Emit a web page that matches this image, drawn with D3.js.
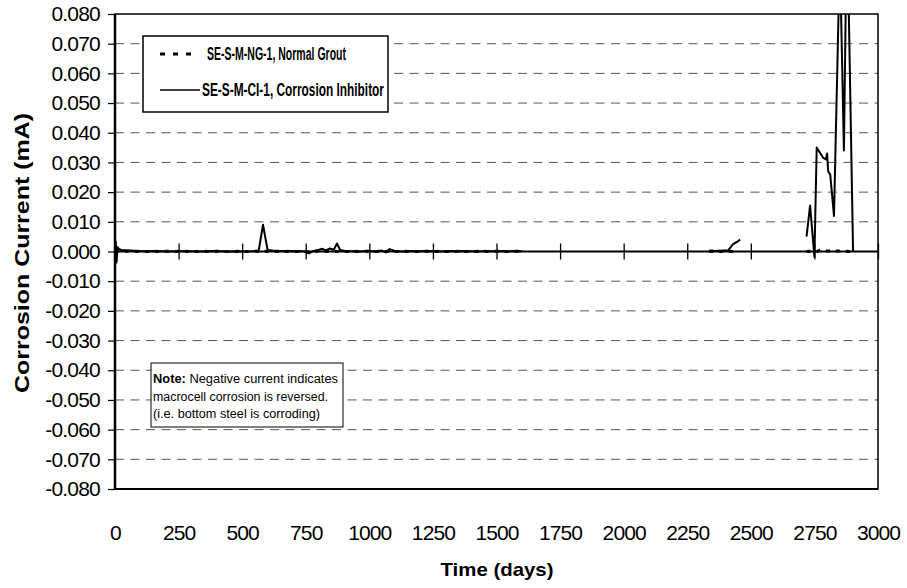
<!DOCTYPE html>
<html>
<head>
<meta charset="utf-8">
<script src="https://cdn.jsdelivr.net/npm/d3@7"></script>
<style>
    body { margin: 0; background: #fff; }
    svg { display: block; font-family: Arial, "Liberation Sans", sans-serif; }
</style>
</head>
<body>
<div id="chart"></div>
<script>
// ---- data ----
const xTicks = [0, 250, 500, 750, 1000, 1250, 1500, 1750, 2000, 2250, 2500, 2750, 3000];
const yTicks = [-0.08, -0.07, -0.06, -0.05, -0.04, -0.03, -0.02, -0.01, 0, 0.01, 0.02, 0.03, 0.04, 0.05, 0.06, 0.07, 0.08];

// SE-S-M-NG-1, Normal Grout (null = no readings)
const ngDays = [
    0, 14, 28, 49, 70, 98, 126, 154, 182, 210,
    238, 266, 294, 322, 350, 378, 406, 434, 462, 490,
    518, 546, 574, 602, 630, 658, 686, 714, 742, 770,
    798, 826, 854, 882, 910, 938, 966, 994, 1022, 1050,
    1078, 1106, 1134, 1162, 1190, 1218, 1246, 1274, 1302, 1330,
    1358, 1386, 1414, 1442, 1470, 1498, 1526, 1554, 1582, 1600,
    1970, 2336, 2358, 2384, 2406, 2430, 2440, 2600, 2719, 2735,
    2760, 2779, 2800, 2827, 2851, 2870, 2895
];
const ngValues = [
    0.0000, 0.0002, 0.0001, 0.0001, 0.0000, 0.0001, 0.0000, 0.0001, 0.0000, 0.0001,
    0.0000, 0.0001, 0.0000, 0.0000, 0.0001, 0.0000, 0.0001, 0.0000, 0.0000, 0.0001,
    0.0000, 0.0001, 0.0000, 0.0001, 0.0000, 0.0000, 0.0001, 0.0000, 0.0001, 0.0000,
    0.0001, 0.0000, 0.0001, 0.0000, 0.0000, 0.0001, 0.0000, 0.0001, 0.0000, 0.0000,
    0.0001, 0.0000, 0.0001, 0.0000, 0.0000, 0.0001, 0.0000, 0.0001, 0.0000, 0.0000,
    0.0001, 0.0000, 0.0000, 0.0001, 0.0000, 0.0001, 0.0000, 0.0000, 0.0001, 0.0000,
    null, 0.0000, 0.0001, 0.0000, 0.0001, 0.0000, 0.0001, null, 0.0000, 0.0001,
    0.0000, 0.0007, 0.0002, 0.0001, 0.0002, 0.0001, 0.0000
];

// SE-S-M-CI-1, Corrosion Inhibitor
const ciDays = [
    0, 3, 6, 10, 16, 25, 40, 60, 90, 120,
    150, 180, 210, 240, 270, 300, 330, 360, 390, 420,
    450, 480, 510, 540, 565, 582, 600, 620, 650, 680,
    710, 740, 763, 780, 800, 815, 830, 845, 860, 873,
    885, 905, 930, 960, 990, 1020, 1050, 1065, 1080, 1100,
    1130, 1160, 1190, 1220, 1250, 1280, 1310, 1340, 1370, 1400,
    1430, 1460, 1490, 1520, 1550, 1580, 1600, 1970, 2336, 2360,
    2390, 2410, 2430, 2445, 2458, 2600, 2719, 2733, 2750, 2759,
    2785, 2795, 2800, 2804, 2812, 2827, 2850, 2866, 2878, 2902
];
const ciValues = [
    0.0000, 0.0033, -0.0037, 0.0015, 0.0008, 0.0005, 0.0004, 0.0003, 0.0002, 0.0001,
    0.0002, 0.0001, 0.0000, 0.0001, 0.0002, 0.0001, 0.0000, 0.0001, 0.0002, 0.0001,
    0.0000, 0.0001, 0.0000, 0.0001, 0.0003, 0.0090, 0.0005, 0.0003, 0.0002, 0.0001,
    0.0002, 0.0001, -0.0006, 0.0002, 0.0005, 0.0009, 0.0004, 0.0010, 0.0006, 0.0027,
    0.0005, 0.0002, 0.0001, 0.0000, 0.0002, 0.0001, 0.0003, -0.0003, 0.0008, 0.0002,
    0.0000, 0.0002, 0.0001, 0.0002, 0.0001, 0.0000, 0.0002, 0.0001, 0.0002, 0.0001,
    0.0000, 0.0002, 0.0001, 0.0002, 0.0001, 0.0002, 0.0001, null, 0.0003, 0.0002,
    0.0003, 0.0003, 0.0025, 0.0032, 0.0040, null, 0.0050, 0.0155, -0.0018, 0.0350,
    0.0315, 0.0310, 0.0330, 0.0270, 0.0260, 0.0120, 0.1000, 0.0340, 0.1150, 0.0000
];

const seriesNames = ["SE-S-M-NG-1, Normal Grout", "SE-S-M-CI-1,  Corrosion Inhibitor"];
const noteLines = ["Negative current indicates", "macrocell corrosion is reversed.", "(i.e. bottom steel is corroding)"];

class CorrosionChart {
    constructor(parentElement) {
        this.parentElement = parentElement;
        this.initVis();
    }

    initVis() {
        const vis = this;

        vis.margin = { top: 14, right: 29, bottom: 99, left: 115 };
        vis.width = 907 - vis.margin.left - vis.margin.right;
        vis.height = 588 - vis.margin.top - vis.margin.bottom;

        const svg = d3.select(`#${vis.parentElement}`)
            .append("svg")
            .attr("width", 907)
            .attr("height", 588);

        vis.svg = svg.append("g")
            .attr("transform", `translate(${vis.margin.left},${vis.margin.top})`);

        // Scales
        vis.x = d3.scaleLinear().domain([0, 3000]).range([0, vis.width]);
        vis.y = d3.scaleLinear().domain([-0.08, 0.08]).range([vis.height, 0]);

        // Dashed gridlines
        vis.svg.append("g")
            .selectAll("line")
            .data(yTicks.filter(d => d !== 0 && Math.abs(d) < 0.08))
            .enter()
            .append("line")
            .attr("x1", 0)
            .attr("x2", vis.width)
            .attr("y1", d => vis.y(d))
            .attr("y2", d => vis.y(d))
            .attr("stroke", "#555")
            .attr("stroke-width", 1)
            .attr("stroke-dasharray", "9,6.5");

        // Y axis with outward ticks
        const yAxis = vis.svg.append("g")
            .call(d3.axisLeft(vis.y)
                .tickValues(yTicks)
                .tickSize(7)
                .tickPadding(8)
                .tickFormat(d => d.toFixed(3)));
        yAxis.select(".domain").remove();
        yAxis.selectAll("line").attr("stroke", "#000").attr("stroke-width", 1.2);
        yAxis.selectAll("text")
            .attr("font-size", "21px")
            .attr("letter-spacing", "-0.8px")
            .attr("fill", "#000")
            .style("font-family", "Arial, 'Liberation Sans', sans-serif");

        // X labels, placed below the plot
        const xLabels = vis.svg.append("g")
            .attr("transform", `translate(0,${vis.height})`)
            .call(d3.axisBottom(vis.x)
                .tickValues(xTicks)
                .tickSize(0)
                .tickPadding(36)
                .tickFormat(d => String(d)));
        xLabels.select(".domain").remove();
        xLabels.selectAll("text")
            .attr("font-size", "21px")
            .attr("letter-spacing", "-0.9px")
            .attr("fill", "#000")
            .style("font-family", "Arial, 'Liberation Sans', sans-serif");

        // Zero line with crossing ticks
        const y0 = vis.y(0);
        vis.svg.append("line")
            .attr("x1", 0).attr("x2", vis.width)
            .attr("y1", y0).attr("y2", y0)
            .attr("stroke", "#000").attr("stroke-width", 2);
        const cross = vis.svg.append("g")
            .attr("transform", `translate(0,${y0 - 8})`)
            .call(d3.axisBottom(vis.x).tickValues(xTicks).tickSize(16).tickFormat(""));
        cross.select(".domain").remove();
        cross.selectAll("line").attr("stroke", "#000").attr("stroke-width", 1.3);

        // Clip for data
        svg.append("defs").append("clipPath")
            .attr("id", "plot-clip")
            .append("rect")
            .attr("width", vis.width)
            .attr("height", vis.height);

        const ngData = ngDays.map((d, i) => ({ day: d, value: ngValues[i] }));
        const ciData = ciDays.map((d, i) => ({ day: d, value: ciValues[i] }));

        const line = d3.line()
            .defined(d => d.value !== null)
            .x(d => vis.x(d.day))
            .y(d => vis.y(d.value));

        const plot = vis.svg.append("g").attr("clip-path", "url(#plot-clip)");

        plot.append("path")
            .datum(ciData)
            .attr("d", line)
            .attr("fill", "none")
            .attr("stroke", "#000")
            .attr("stroke-width", 2)
            .attr("stroke-linejoin", "round");

        plot.append("path")
            .datum(ngData)
            .attr("d", line)
            .attr("fill", "none")
            .attr("stroke", "#000")
            .attr("stroke-width", 3)
            .attr("stroke-dasharray", "4,6");

        // Plot border
        vis.svg.append("rect")
            .attr("width", vis.width)
            .attr("height", vis.height)
            .attr("fill", "none")
            .attr("stroke", "#000")
            .attr("stroke-width", 1.5);
        vis.svg.append("line")
            .attr("x1", 0).attr("x2", 0)
            .attr("y1", 0).attr("y2", vis.height)
            .attr("stroke", "#000").attr("stroke-width", 2.5);
        vis.svg.append("line")
            .attr("x1", 0).attr("x2", vis.width)
            .attr("y1", vis.height).attr("y2", vis.height)
            .attr("stroke", "#000").attr("stroke-width", 2);

        // Legend
        const legend = svg.append("g").attr("class", "legend");
        legend.append("rect")
            .attr("x", 143).attr("y", 36)
            .attr("width", 245).attr("height", 76)
            .attr("fill", "#fff")
            .attr("stroke", "#000")
            .attr("stroke-width", 1.5);
        legend.append("line")
            .attr("x1", 160).attr("x2", 194)
            .attr("y1", 54).attr("y2", 54)
            .attr("stroke", "#000").attr("stroke-width", 3)
            .attr("stroke-dasharray", "5,8");
        legend.append("line")
            .attr("x1", 160).attr("x2", 200)
            .attr("y1", 90).attr("y2", 90)
            .attr("stroke", "#000").attr("stroke-width", 1.5);
        legend.selectAll(".legend-label")
            .data(seriesNames)
            .enter()
            .append("text")
            .attr("class", "legend-label")
            .attr("x", (d, i) => i === 0 ? 207 : 202)
            .attr("y", (d, i) => i === 0 ? 60 : 96)
            .attr("font-size", "17.5px")
            .attr("font-weight", "bold")
            .attr("textLength", (d, i) => i === 0 ? 139 : 182)
            .attr("lengthAdjust", "spacingAndGlyphs")
            .text(d => d);

        // Note box
        const note = svg.append("g").attr("class", "note");
        note.append("rect")
            .attr("x", 151).attr("y", 363)
            .attr("width", 192).attr("height", 64)
            .attr("fill", "#fff")
            .attr("stroke", "#000")
            .attr("stroke-width", 1);
        const noteWidths = [185, 175, 167];
        const noteY = [383, 401, 418];
        noteLines.forEach((t, i) => {
            const txt = note.append("text")
                .attr("x", 153)
                .attr("y", noteY[i])
                .attr("font-size", "12.5px")
                .attr("textLength", noteWidths[i])
                .attr("lengthAdjust", "spacingAndGlyphs");
            if (i === 0) {
                txt.append("tspan").attr("font-weight", "bold").text("Note:");
                txt.append("tspan").text("  " + t);
            } else {
                txt.text(t);
            }
        });

        // Axis titles
        svg.append("text")
            .attr("x", 497)
            .attr("y", 576)
            .attr("text-anchor", "middle")
            .attr("font-size", "19px")
            .attr("font-weight", "bold")
            .attr("textLength", 113)
            .attr("lengthAdjust", "spacingAndGlyphs")
            .text("Time  (days)");

        svg.append("text")
            .attr("transform", `translate(29,253) rotate(-90)`)
            .attr("text-anchor", "middle")
            .attr("font-size", "20px")
            .attr("font-weight", "bold")
            .attr("textLength", 280)
            .attr("lengthAdjust", "spacingAndGlyphs")
            .text("Corrosion Current  (mA)");
    }
}

new CorrosionChart("chart");
</script>
</body>
</html>
